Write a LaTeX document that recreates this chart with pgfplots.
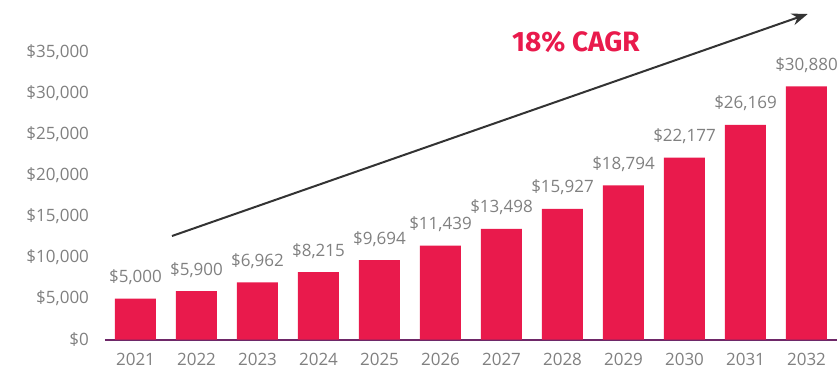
\documentclass[border=0pt]{standalone}
\usepackage{pgfplots}
\pgfplotsset{compat=1.18}
\usepackage{fontspec}
\setmainfont{Open Sans}
\newfontfamily\cagrfont{Fira Sans}
\usetikzlibrary{arrows.meta}
\definecolor{barc}{HTML}{E91A4C}
\definecolor{axc}{HTML}{6E2868}
\definecolor{lblc}{HTML}{808080}
\definecolor{arrc}{HTML}{333333}
\begin{document}
\begin{tikzpicture}
\useasboundingbox (0pt,0pt) rectangle (418.5pt,194pt);
\begin{axis}[
  at={(52.5pt,24.25pt)}, anchor=south west,
  scale only axis,
  width=366pt, height=169.75pt,
  xmin=-0.5, xmax=11.5,
  ymin=0, ymax=41402,
  axis x line*=bottom, axis y line*=left,
  x axis line style={draw=axc, line width=1pt},
  y axis line style={draw=none},
  major tick length=0pt,
  xtick={0,...,11},
  xticklabels={2021,2022,2023,2024,2025,2026,2027,2028,2029,2030,2031,2032},
  ytick={0,5000,10000,15000,20000,25000,30000,35000},
  yticklabels={{\$0},{\$5,000},{\$10,000},{\$15,000},{\$20,000},{\$25,000},{\$30,000},{\$35,000}},
  tick label style={font=\fontsize{8.5}{10}\selectfont, text=lblc},
  xticklabel style={yshift=-3.5pt},
  yticklabel style={xshift=-4.5pt},
  clip=false,
]
\addplot[ybar, bar width=20.5pt, fill=barc, draw=none,
  point meta=explicit symbolic,
  nodes near coords,
  nodes near coords style={font=\fontsize{8.5}{10}\selectfont, text=lblc, anchor=base, inner sep=0pt, yshift=8pt},
] coordinates {
  (0,5000) [\$5,000]
  (1,5900) [\$5,900]
  (2,6962) [\$6,962]
  (3,8215) [\$8,215]
  (4,9694) [\$9,694]
  (5,11439) [\$11,439]
  (6,13498) [\$13,498]
  (7,15927) [\$15,927]
  (8,18794) [\$18,794]
  (9,22177) [\$22,177]
  (10,26169) [\$26,169]
  (11,30880) [\$30,880]
};
\draw[arrc, line width=1pt, -{Stealth[length=8pt,width=6pt]}] (axis cs:0.598,12622) -- (axis cs:11.02,39695);
\node[text=barc, font=\cagrfont\bfseries\fontsize{14}{16}\selectfont] at (axis cs:7.22,36280) {18\% CAGR};
\end{axis}
\end{tikzpicture}
\end{document}
